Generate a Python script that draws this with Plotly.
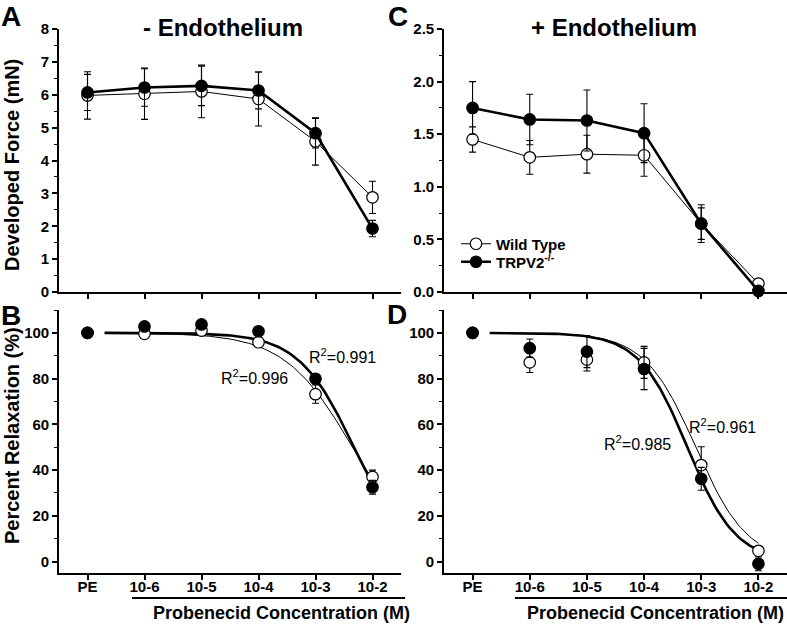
import numpy as np
import plotly.graph_objects as go

# ---------------- data ----------------
categories = ["PE", "10-6", "10-5", "10-4", "10-3", "10-2"]
cat_idx = [0, 1, 2, 3, 4, 5]

# Panel A: developed force (mN), - endothelium
A_wt = [5.98, 6.03, 6.10, 5.87, 4.58, 2.88]
A_wt_err = [0.72, 0.78, 0.80, 0.82, 0.72, 0.49]
A_ko = [6.07, 6.22, 6.27, 6.13, 4.83, 1.93]
A_ko_err = [0.55, 0.57, 0.60, 0.56, 0.45, 0.25]

# Panel C: developed force (mN), + endothelium
C_wt = [1.45, 1.28, 1.31, 1.30, 0.65, 0.08]
C_wt_err = [0.12, 0.16, 0.18, 0.20, 0.18, 0.02]
C_ko = [1.75, 1.64, 1.63, 1.51, 0.65, 0.01]
C_ko_err = [0.25, 0.24, 0.29, 0.28, 0.15, 0.02]

# Panel B: percent relaxation, - endothelium
B_wt = [100, 99.6, 101.0, 95.9, 73.2, 37.0]
B_wt_err = [0, 1.0, 1.0, 2.0, 4.0, 3.0]
B_ko = [100, 102.8, 103.7, 100.7, 79.9, 32.5]
B_ko_err = [0, 1.0, 1.0, 1.5, 2.0, 3.0]

# Panel D: percent relaxation, + endothelium
D_wt = [100, 87.1, 88.3, 87.1, 42.2, 4.7]
D_wt_err = [0, 4.4, 5.0, 7.0, 8.0, 2.0]
D_ko = [100, 93.3, 91.8, 84.2, 36.2, -1.0]
D_ko_err = [0, 4.0, 7.0, 9.0, 5.0, 3.0]

# Sigmoidal fit parameters (top, bottom, logIC50, hill)
B_wt_fit = (100, 0, -2.35, 0.725)
B_ko_fit = (100, 0, -2.324, 0.89)
D_wt_fit = (100, 0, -3.095, 0.968)
D_ko_fit = (100, 0, -3.243, 1.029)
fit_r2 = {"B_ko": "0.991", "B_wt": "0.996", "D_wt": "0.961", "D_ko": "0.985"}
log_offset = 7  # category index 1 -> 10^-6 M

# ---------------- figure ----------------
W, H = 787, 627
def px(x): return x / W
def py(y): return 1 - y / H

fig = go.Figure()
BLACK = "black"

def fit_curve(p):
    top, bottom, logic50, hill = p
    xi = np.linspace(0.3, 5, 120)
    lx = xi - log_offset
    return xi, bottom + (top - bottom) / (1 + 10 ** ((lx - logic50) * hill))

def add_series(xa, ya, vals, errs, filled, name, lines, legend=None):
    fig.add_trace(go.Scatter(
        x=cat_idx, y=vals, xaxis=xa, yaxis=ya, name=name,
        mode="lines+markers" if lines else "markers",
        line=dict(color=BLACK, width=2.6 if filled else 1.0),
        marker=dict(symbol="circle", size=11.5,
                    color=BLACK if filled else "white",
                    line=dict(color=BLACK, width=1.2)),
        error_y=dict(type="data", array=errs, visible=True, color=BLACK,
                     thickness=1.1, width=3.5),
        showlegend=legend is not None, legend=legend or "legend",
        cliponaxis=False))

def add_fit(xa, ya, p, thick):
    xi, yi = fit_curve(p)
    fig.add_trace(go.Scatter(x=xi, y=yi, xaxis=xa, yaxis=ya, mode="lines",
                             line=dict(color=BLACK, width=2.6 if thick else 1.0),
                             showlegend=False, hoverinfo="skip"))

# A (x, y)
add_series("x", "y", A_wt, A_wt_err, False, "Wild Type", True)
add_series("x", "y", A_ko, A_ko_err, True, "TRPV2<sup>-/-</sup>", True)
# C (x2, y2)
add_series("x2", "y2", C_wt, C_wt_err, False, "Wild Type", True, "legend")
add_series("x2", "y2", C_ko, C_ko_err, True, "TRPV2<sup>-/-</sup>", True, "legend2")
# B (x3, y3)
add_fit("x3", "y3", B_wt_fit, False)
add_fit("x3", "y3", B_ko_fit, True)
add_series("x3", "y3", B_wt, B_wt_err, False, "Wild Type", False)
add_series("x3", "y3", B_ko, B_ko_err, True, "TRPV2", False)
# D (x4, y4)
add_fit("x4", "y4", D_wt_fit, False)
add_fit("x4", "y4", D_ko_fit, True)
add_series("x4", "y4", D_wt, D_wt_err, False, "Wild Type", False)
add_series("x4", "y4", D_ko, D_ko_err, True, "TRPV2", False)

FONT = "Liberation Sans, Arial, sans-serif"
tickfont = dict(family=FONT, size=15, color=BLACK, weight="bold")

def xaxis(domain, anchor, labels=True):
    return dict(domain=domain, anchor=anchor, range=[-0.5, 5.5],
                tickvals=cat_idx, ticktext=categories, tickfont=tickfont,
                showticklabels=labels, ticklabelstandoff=-6,
                showline=True, linecolor=BLACK, linewidth=1.6,
                ticks="outside", ticklen=5, tickwidth=1.6, tickcolor=BLACK,
                showgrid=False, zeroline=False, fixedrange=True)

def yaxis(domain, anchor, rng, dtick, minor, fmt=None):
    d = dict(domain=domain, anchor=anchor, range=rng, tick0=0, dtick=dtick,
             tickfont=tickfont, showline=True, linecolor=BLACK, linewidth=1.6,
             ticks="outside", ticklen=5, tickwidth=1.6, tickcolor=BLACK,
             minor=dict(ticks="outside", ticklen=3, tickwidth=1.4,
                        tickcolor=BLACK, dtick=minor, tick0=0),
             showgrid=False, zeroline=False, fixedrange=True)
    if fmt:
        d["tickformat"] = fmt
    return d

xl = [px(59), px(401)]
xr = [px(444), 1.0]
yt = [py(292), py(29)]
yb = [py(573), py(310)]

legfont = dict(family=FONT, size=15, color=BLACK, weight="bold")
fig.update_layout(
    width=W, height=H, margin=dict(l=0, r=0, t=0, b=0, autoexpand=False),
    paper_bgcolor="white", plot_bgcolor="white",
    xaxis=xaxis(xl, "y", False), yaxis=yaxis(yt, "x", [0, 8], 1, 0.5),
    xaxis2=xaxis(xr, "y2", False), yaxis2=yaxis(yt, "x2", [0, 2.5], 0.5, 0.25, ".1f"),
    xaxis3=xaxis(xl, "y3"), yaxis3=yaxis(yb, "x3", [-5, 110], 20, 10),
    xaxis4=xaxis(xr, "y4"), yaxis4=yaxis(yb, "x4", [-5, 110], 20, 10),
    showlegend=True,
    legend=dict(x=px(456), y=py(244), xanchor="left", yanchor="middle",
                bgcolor="rgba(0,0,0,0)", borderwidth=0, font=legfont),
    legend2=dict(x=px(456), y=py(262), xanchor="left", yanchor="middle",
                 bgcolor="rgba(0,0,0,0)", borderwidth=0, font=legfont),
)

ann = []
def text(x, y, t, size, bold=True, angle=0, xref="paper", yref="paper"):
    ann.append(dict(x=x, y=y, xref=xref, yref=yref, text=t, showarrow=False,
                    textangle=angle, xanchor="center", yanchor="middle",
                    font=dict(family=FONT, size=size, color=BLACK,
                              weight="bold" if bold else "normal")))

# titles
text(px(223), py(27), "- Endothelium", 24)
text(px(614), py(27), "+ Endothelium", 24)
# panel letters
text(px(11), py(17), "A", 28)
text(px(11), py(315), "B", 28)
text(px(398), py(17), "C", 28)
text(px(397), py(314), "D", 28)
# axis titles
text(px(12), py(165), "Developed Force (mN)", 20, angle=-90)
text(px(12), py(436), "Percent Relaxation (%)", 20, angle=-90)
text(px(281), py(613), "Probenecid Concentration (M)", 18)
text(px(655), py(613), "Probenecid Concentration (M)", 18)
# R^2 labels
text(4.47, 89.9, "R<sup>2</sup>=" + fit_r2["B_ko"], 16, bold=False, xref="x3", yref="y3")
text(2.93, 80.7, "R<sup>2</sup>=" + fit_r2["B_wt"], 16, bold=False, xref="x3", yref="y3")
text(4.38, 59.3, "R<sup>2</sup>=" + fit_r2["D_wt"], 16, bold=False, xref="x4", yref="y4")
text(2.89, 51.8, "R<sup>2</sup>=" + fit_r2["D_ko"], 16, bold=False, xref="x4", yref="y4")
fig.update_layout(annotations=ann)

# bars under concentration tick labels
fig.update_layout(shapes=[
    dict(type="line", xref="paper", yref="paper", x0=px(132), x1=px(405),
         y0=py(598), y1=py(598), line=dict(color=BLACK, width=2)),
    dict(type="line", xref="paper", yref="paper", x0=px(515), x1=1.0,
         y0=py(598), y1=py(598), line=dict(color=BLACK, width=2)),
])

fig.write_html("out.html", config={"displayModeBar": False},
               post_script="document.body.style.margin='0';document.body.style.overflow='hidden';")
